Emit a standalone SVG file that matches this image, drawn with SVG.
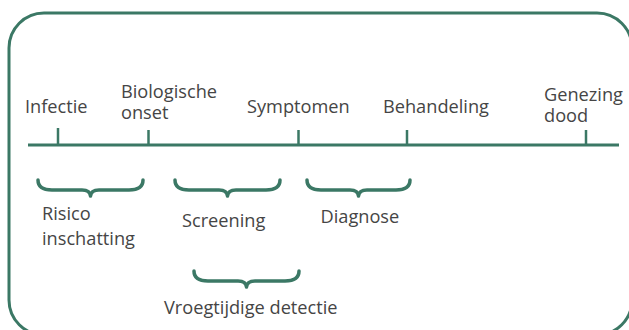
<svg xmlns="http://www.w3.org/2000/svg" width="629" height="330" viewBox="0 0 629 330">
<style>
.frame{fill:none;stroke:#3b7865;stroke-width:3}
.axis{stroke:#3b7865;stroke-width:3;fill:none}
.tick{stroke:#3b7865;stroke-width:2.5}
.brace{fill:none;stroke:#3b7865;stroke-width:3.5;stroke-linecap:round;stroke-linejoin:round}
text{font-family:"Open Sans","Liberation Sans",sans-serif;font-size:18.2px;fill:#454545}
</style>
<rect class="frame" x="9" y="13" width="623" height="322" rx="35" ry="35"/>
<g id="connectors">
<line class="axis" x1="28" y1="145" x2="619" y2="145"/>
</g>
<g id="infectie">
<line class="tick" x1="58" y1="128" x2="58" y2="145"/>
<text x="25" y="113">Infectie</text>
</g>
<g id="biologische-onset">
<line class="tick" x1="148.5" y1="130" x2="148.5" y2="145"/>
<text x="121" y="97.5">Biologische</text>
<text x="121" y="119">onset</text>
</g>
<g id="symptomen">
<line class="tick" x1="298.5" y1="130" x2="298.5" y2="145"/>
<text x="247" y="113">Symptomen</text>
</g>
<g id="behandeling">
<line class="tick" x1="407" y1="130" x2="407" y2="145"/>
<text x="383" y="113">Behandeling</text>
</g>
<g id="genezing-dood">
<line class="tick" x1="586" y1="130" x2="586" y2="145"/>
<text x="544" y="100.5">Genezing</text>
<text x="544" y="122">dood</text>
</g>
<g id="risico-inschatting">
<path class="brace" d="M38,180 Q38,190 52,190 L82,190 Q90,190 90.5,196 Q91,190 99,190 L129,190 Q143,190 143,180"/>
<text x="42" y="220">Risico</text>
<text x="42" y="245">inschatting</text>
</g>
<g id="screening">
<path class="brace" d="M175,180 Q175,190 189,190 L219,190 Q227,190 227.5,196 Q228,190 236,190 L266,190 Q280,190 280,180"/>
<text x="182" y="226.5">Screening</text>
</g>
<g id="diagnose">
<path class="brace" d="M307,180 Q307,190 321,190 L350,190 Q358,190 358.5,196 Q359,190 367,190 L396,190 Q410,190 410,180"/>
<text x="320.5" y="223">Diagnose</text>
</g>
<g id="vroegtijdige-detectie">
<path class="brace" d="M194,271 Q194,281 208,281 L238,281 Q246,281 246.5,287 Q247,281 255,281 L285,281 Q299,281 299,271"/>
<text x="164" y="313.5">Vroegtijdige detectie</text>
</g>
</svg>
